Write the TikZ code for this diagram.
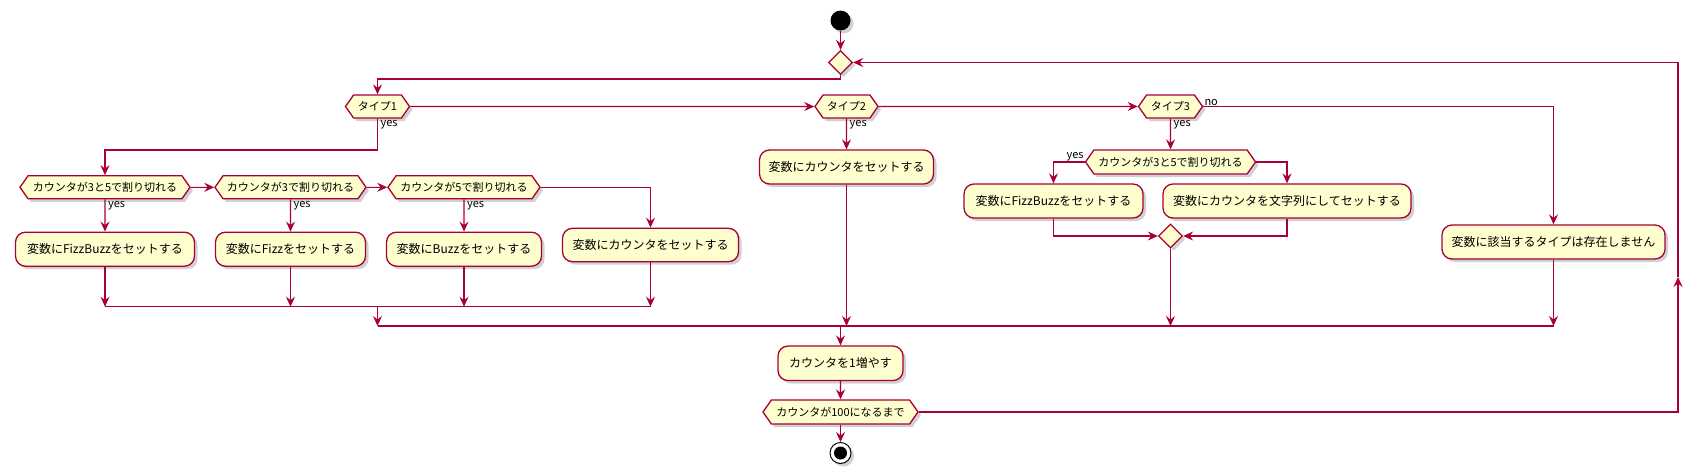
\documentclass[tikz,border=0pt]{standalone}
\usepackage{fontspec}
\setmainfont{Noto Sans CJK JP}
\usetikzlibrary{arrows.meta,shapes.geometric,shapes.symbols,shadows}
\definecolor{pumlred}{HTML}{A80036}
\definecolor{pumlfill}{HTML}{FEFECE}
\tikzset{
  flow/.style={draw=pumlred, line width=1.1pt, -{Stealth[length=10pt,width=9pt,inset=3.5pt]}},
  wire/.style={draw=pumlred, line width=1.1pt},
  dshadow/.style={drop shadow={shadow xshift=3pt, shadow yshift=-3pt, fill=black, opacity=0.18}},
  act/.style={draw=pumlred, fill=pumlfill, line width=1.3pt, rounded corners=10pt, dshadow, inner sep=0pt, minimum height=34pt, font=\fontsize{12}{14}\selectfont},
  cond/.style={signal, signal to=east and west, signal pointer angle=110, draw=pumlred, fill=pumlfill, line width=1.3pt, dshadow, inner sep=0pt, minimum height=23pt, font=\fontsize{11}{13}\selectfont},
  gate/.style={diamond, draw=pumlred, fill=pumlfill, line width=1.3pt, dshadow, inner sep=0pt, minimum width=24pt, minimum height=24pt},
  lbl/.style={inner sep=1pt, font=\fontsize{11}{13}\selectfont}
}
\begin{document}
\begin{tikzpicture}[x=1pt,y=-1pt]
\useasboundingbox (0,0) rectangle (1702,474);
\coordinate (lv0) at (0,79);
\coordinate (lv1) at (0,150);
\coordinate (bar1) at (0,306.7);
\coordinate (bar2) at (0,326);
\coordinate (loopx) at (1678,277);
\node[circle, fill=black, minimum size=20pt, inner sep=0pt, dshadow] (start) at (840.5,20.5){};
\node[gate] (loop0) at (840.5,62.5){};
\draw[flow](start) -- (loop0);
\node[cond, minimum width=64pt] (typ1) at (377.5,106.5){タイプ1};
\node[cond, minimum width=63pt] (typ2) at (846.5,106.5){タイプ2};
\node[cond, minimum width=64pt] (typ3) at (1170.5,106.5){タイプ3};
\draw[flow](loop0.south) -- (loop0 |- lv0) -| (typ1.north);
\draw[flow](typ1) -- (typ2);
\draw[flow](typ2) -- (typ3);
\node[lbl, anchor=north west] (yes1) at ([xshift=2pt,yshift=-1pt]typ1.south){yes};
\node[lbl, anchor=north west] (yes2) at ([xshift=2pt,yshift=-1pt]typ2.south){yes};
\node[lbl, anchor=north west] (yes3) at ([xshift=2pt,yshift=-1pt]typ3.south){yes};
\node[lbl, anchor=south west] (no3) at (typ3.east){no};

\node[cond, minimum width=170pt] (div15) at (105,187.3){カウンタが3と5で割り切れる};
\node[cond, minimum width=151pt] (div3) at (290.5,187.3){カウンタが3で割り切れる};
\node[cond, minimum width=152pt] (div5) at (464,187.3){カウンタが5で割り切れる};
\draw[flow](typ1.south) -- (typ1 |- lv1) -| (div15.north);
\draw[flow](div15) -- (div3);
\draw[flow](div3) -- (div5);
\node[lbl, anchor=north west] (yes4) at ([xshift=2pt,yshift=-1pt]div15.south){yes};
\node[lbl, anchor=north west] (yes5) at ([xshift=2pt,yshift=-1pt]div3.south){yes};
\node[lbl, anchor=north west] (yes6) at ([xshift=2pt,yshift=-1pt]div5.south){yes};
\node[act, minimum width=179pt] (set15) at (105,249.2){変数にFizzBuzzをセットする};
\node[act, minimum width=150pt] (set3) at (290.5,249.2){変数にFizzをセットする};
\node[act, minimum width=155pt] (set5) at (464,249.2){変数にBuzzをセットする};
\node[act, minimum width=176pt, minimum height=33.4pt] (setc1) at (650.5,245){変数にカウンタをセットする};
\draw[flow](div15) -- (set15);
\draw[flow](div3) -- (set3);
\draw[flow](div5) -- (set5);
\draw[flow](div5.east) -| (setc1.north);
\draw[flow](set15) -- (set15 |- bar1);
\draw[flow](set3) -- (set3 |- bar1);
\draw[flow](set5) -- (set5 |- bar1);
\draw[flow](setc1) -- (setc1 |- bar1);
\draw[wire](set15 |- bar1) -- (setc1 |- bar1);
\draw[flow](typ1 |- bar1) -- (typ1 |- bar2);

\node[act, minimum width=174pt] (setc2) at (846.5,167){変数にカウンタをセットする};
\draw[flow](typ2) -- (setc2);
\draw[flow](setc2) -- (setc2 |- bar2);

\node[cond, minimum width=170pt, minimum height=24pt] (div15b) at (1170.5,162){カウンタが3と5で割り切れる};
\node[lbl, anchor=south east] (yes7) at (div15b.west){yes};
\node[act, minimum width=179pt] (set15b) at (1053.5,201){変数にFizzBuzzをセットする};
\node[act, minimum width=248pt] (setstr) at (1287,201){変数にカウンタを文字列にしてセットする};
\node[gate] (join3) at (1170.5,236){};
\draw[flow](typ3) -- (div15b);
\draw[flow](div15b.west) -| (set15b.north);
\draw[flow](div15b.east) -| (setstr.north);
\draw[flow](set15b.south) |- (join3.west);
\draw[flow](setstr.south) |- (join3.east);
\draw[flow](join3) -- (join3 |- bar2);

\node[act, minimum width=223pt] (none) at (1553.5,242){変数に該当するタイプは存在しません};
\draw[flow](typ3.east) -| (none.north);
\draw[flow](none) -- (none |- bar2);
\draw[wire](typ1 |- bar2) -- (none |- bar2);

\node[act, minimum width=125pt, minimum height=34.5pt] (inc) at (840.5,363.3){カウンタを1増やす};
\node[cond, minimum width=155pt, minimum height=24pt] (until) at (840.5,412){カウンタが100になるまで};
\node[circle, draw=black, fill=white, line width=1pt, minimum size=21pt, inner sep=0pt, dshadow] (stop) at (840.5,453){};
\fill (stop.center) circle[radius=6.5];
\draw[flow](loop0 |- bar2) -- (inc);
\draw[flow](inc) -- (until);
\draw[flow](until) -- (stop);
\draw[flow](until.east) -| (loopx);
\draw[flow](loopx) |- (loop0.east);

\end{tikzpicture}
\end{document}
